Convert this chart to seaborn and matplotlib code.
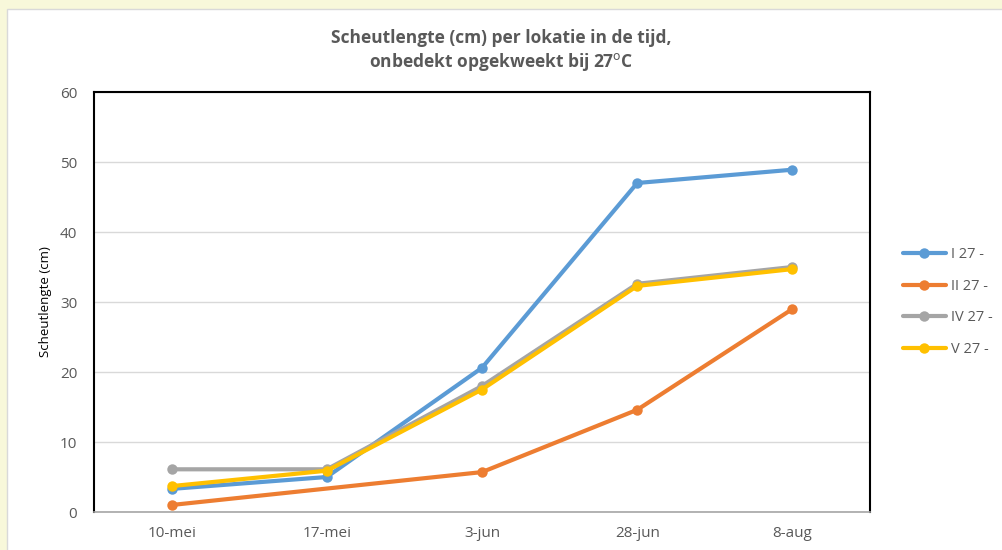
import pandas as pd
import seaborn as sns
import matplotlib.pyplot as plt
import numpy as np
from matplotlib.patches import Rectangle

dates = ["10-mei", "17-mei", "3-jun", "28-jun", "8-aug"]
series = ["I 27 -", "II 27 -", "IV 27 -", "V 27 -"]
loc_I = [3.3, 5.0, 20.6, 47.0, 48.9]
loc_II = [1.0, np.nan, 5.7, 14.6, 29.0]
loc_IV = [6.1, 6.1, 18.0, 32.6, 35.0]
loc_V = [3.7, 5.9, 17.5, 32.3, 34.7]
colors = ["#5B9BD5", "#ED7D31", "#A5A5A5", "#FFC000"]

data = {"pos": [], "datum": [], "lengte": [], "lokatie": []}
for name, vals in zip(series, [loc_I, loc_II, loc_IV, loc_V]):
    for i, (d, v) in enumerate(zip(dates, vals)):
        data["pos"].append(i)
        data["datum"].append(d)
        data["lengte"].append(v)
        data["lokatie"].append(name)
df = pd.DataFrame(data).dropna()  # Excel connects the missing point

sns.set_style("white")
plt.rcParams["font.family"] = ["Open Sans", "DejaVu Sans"]

fig = plt.figure(figsize=(10.02, 5.5), dpi=100)
fig.patch.set_facecolor("#F8F8DA")
fig.patches.append(Rectangle((7 / 1002, -0.01), 1, 1.01 - 9 / 550, transform=fig.transFigure,
                             facecolor="white", edgecolor="#D9D9D9", lw=1, zorder=-10))
ax = fig.add_axes([94 / 1002, 38 / 550, 776 / 1002, 420 / 550])

sns.lineplot(data=df, x="pos", y="lengte", hue="lokatie", palette=colors,
             marker="o", markersize=7.5, markeredgewidth=0, linewidth=3, ax=ax)

ax.set_xlim(-0.5, 4.5)
ax.set_ylim(0, 60)
ax.set_xticks(range(len(dates)))
ax.set_xticklabels(dates)
ax.set_yticks(range(0, 61, 10))
ax.grid(axis="y", color="#D9D9D9", lw=1)
ax.set_axisbelow(True)
ax.tick_params(axis="both", colors="#595959", labelsize=11, length=0, pad=10)
ax.tick_params(axis="y", pad=12)
for s in ["left", "top", "right"]:
    ax.spines[s].set_color("black")
    ax.spines[s].set_linewidth(1.5)
ax.spines["bottom"].set_color("#A6A6A6")
ax.spines["bottom"].set_linewidth(1.2)

ax.set_xlabel("")
ax.set_ylabel("Scheutlengte (cm)", fontsize=9.5, color="black", labelpad=6)
fig.text(0.5, 1 - 38 / 550, "Scheutlengte (cm) per lokatie in de tijd,", ha="center", va="center",
         fontsize=12.5, fontweight="bold", color="#595959")
fig.text(0.5, 1 - 62 / 550, "onbedekt opgekweekt bij 27$^{\\mathrm{o}}$C", ha="center", va="center",
         fontsize=12.5, fontweight="bold", color="#595959")

sns.move_legend(ax, "center left", bbox_to_anchor=(1.025, 0.5), frameon=False, title=None,
                fontsize=10.5, labelcolor="#595959", handlelength=3, labelspacing=1.15,
                handletextpad=0.3)

plt.savefig("out.png", dpi=100)
